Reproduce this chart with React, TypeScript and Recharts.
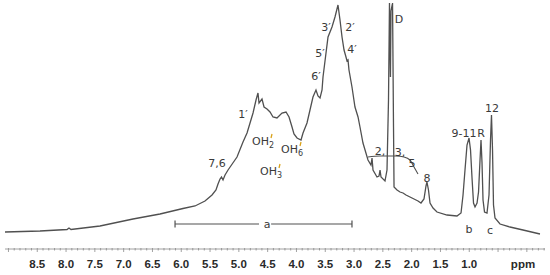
import { ComposedChart, Line, XAxis, YAxis, ReferenceLine } from 'recharts'

// chemical shift (ppm) and signal height
const PPM = [
  9.06, 8.452, 7.983, 7.949, 7.914, 7.411, 6.838, 6.369, 5.97, 5.761, 5.588, 5.466, 5.397, 5.362, 5.327,
  5.301, 5.275, 5.24, 5.188, 5.032, 4.928, 4.858, 4.806, 4.754, 4.702, 4.668, 4.65, 4.598, 4.563, 4.511,
  4.459, 4.407, 4.338, 4.251, 4.181, 4.129, 4.077, 4.043, 3.99, 3.921, 3.886, 3.817, 3.765, 3.713, 3.661,
  3.626, 3.591, 3.556, 3.539, 3.487, 3.452, 3.383, 3.331, 3.279, 3.244, 3.209, 3.174, 3.14, 3.122, 3.105,
  3.088, 3.036, 2.984, 2.931, 2.897, 2.845, 2.758, 2.706, 2.688, 2.671, 2.602, 2.567, 2.549, 2.532, 2.463,
  2.428, 2.402, 2.385, 2.368, 2.359, 2.332, 2.315, 2.306, 2.254, 2.202, 2.15, 2.098, 2.029, 1.959, 1.89,
  1.838, 1.786, 1.751, 1.734, 1.708, 1.681, 1.629, 1.56, 1.386, 1.213, 1.143, 1.108, 1.074, 1.039, 1.004,
  0.978, 0.952, 0.926, 0.9, 0.865, 0.839, 0.813, 0.796, 0.779, 0.761, 0.735, 0.692, 0.657, 0.631, 0.614,
  0.596, 0.579, 0.553, 0.466, 0.293, 0.067, -0.228,
]
const SIGNAL = [
  15, 16, 17.5, 19, 17.5, 21, 28, 33, 38.5, 41, 46, 52, 57, 63, 68,
  70, 67, 72, 77, 90, 105, 114, 124, 134, 147, 154, 144, 148, 140, 138,
  135, 130, 129, 134, 135, 130, 120, 113, 109, 107, 114, 124, 137, 150, 157,
  151, 149, 157, 170, 194, 210, 220, 230, 242, 227, 210, 197, 190, 186, 187,
  177, 160, 140, 130, 120, 104, 87, 82, 89, 77, 70, 71, 77, 70, 66,
  77, 147, 244, 170, 236, 244, 120, 60, 57, 55, 54, 52, 50, 48, 46,
  44, 48, 61, 65, 57, 44, 39, 35, 32, 31, 34, 52, 77, 102, 109,
  97, 69, 44, 40, 44, 55, 87, 107, 85, 47, 35, 34, 52, 107, 132,
  97, 42, 29, 23, 20, 17, 13,
]

// integral trace over signals 2,3,5
const INTEGRAL_PPM = [2.758, 2.549, 2.271, 2.133, 2.029, 1.959, 1.89]
const INTEGRAL_VAL = [90, 91, 91, 90, 87, 80, 73]

const TICK_LABELS = ['8.5', '8.0', '7.5', '7.0', '6.5', '6.0', '5.5', '5.0', '4.5', '4.0', '3.5', '3.0', '2.5', '2.0', '1.5', '1.0']

const spectrum = PPM.map((p, i) => ({ ppm: p, v: SIGNAL[i] }))
const integral = INTEGRAL_PPM.map((p, i) => ({ ppm: p, v: INTEGRAL_VAL[i] }))

const ticks: number[] = []
for (let t = 90; t >= -3; t--) ticks.push(t / 10)

const COLORS = {
  curve: '#505050',
  axis: '#8a8a8a',
  text: '#3a3a3a',
  prime: '#d9a21b',
}

const RulerTick = ({ x, y, payload }: any) => {
  const v = payload.value
  const major = Math.abs(v * 2 - Math.round(v * 2)) < 1e-6
  const label = TICK_LABELS.find((t) => Math.abs(parseFloat(t) - v) < 1e-6)
  return (
    <g>
      <line x1={x} x2={x} y1={y - 1} y2={y + (major ? 3 : 1.5)} stroke={COLORS.axis} strokeWidth={0.8} />
      {label && (
        <text x={x} y={y + 19} textAnchor="middle" fontFamily="Liberation Sans, Arial, sans-serif" fontWeight="bold" fontSize={11.5} fill="#2a2a2a">
          {label}
        </text>
      )}
    </g>
  )
}

const T = { fontFamily: 'DejaVu Sans, Verdana, sans-serif', fontSize: 11, fill: COLORS.text }

// small coloured prime mark drawn over the OH labels
const Prime = ({ x, y }: { x: number; y: number }) => (
  <line x1={x + 1} y1={y - 4} x2={x} y2={y} stroke={COLORS.prime} strokeWidth={1.3} />
)

function Annotations() {
  return (
    <svg width={550} height={275} style={{ position: 'absolute', left: 0, top: 0, pointerEvents: 'none' }}>
      <text {...T} x={217} y={167} textAnchor="middle">7,6</text>
      <text {...T} x={243} y={118} textAnchor="middle">1′</text>
      <text {...T} x={252} y={145}>OH<tspan fontSize={8} dy={3}>2</tspan></text>
      <Prime x={271} y={138} />
      <text {...T} x={281} y={153}>OH<tspan fontSize={8} dy={3}>6</tspan></text>
      <Prime x={300} y={146} />
      <text {...T} x={260} y={175}>OH<tspan fontSize={8} dy={3}>3</tspan></text>
      <Prime x={279} y={168} />
      <text {...T} x={316} y={80} textAnchor="middle">6′</text>
      <text {...T} x={320} y={57} textAnchor="middle">5′</text>
      <text {...T} x={326} y={31} textAnchor="middle">3′</text>
      <text {...T} x={350} y={31} textAnchor="middle">2′</text>
      <text {...T} x={352} y={53} textAnchor="middle">4′</text>
      <text {...T} x={399} y={23} textAnchor="middle">D</text>
      <text {...T} x={380} y={155} textAnchor="middle">2,</text>
      <text {...T} x={400} y={156} textAnchor="middle">3,</text>
      <text {...T} x={412} y={167} textAnchor="middle">5</text>
      <text {...T} x={427} y={182} textAnchor="middle">8</text>
      <text {...T} x={464} y={137} textAnchor="middle">9-11</text>
      <text {...T} x={481} y={137} textAnchor="middle">R</text>
      <text {...T} x={492} y={112} textAnchor="middle">12</text>
      <text {...T} x={469} y={233} textAnchor="middle">b</text>
      <text {...T} x={490} y={234} textAnchor="middle">c</text>
      <text {...T} x={267} y={228} textAnchor="middle">a</text>
      <text x={523} y={268} textAnchor="middle" fontFamily="Liberation Sans, Arial, sans-serif" fontWeight="bold" fontSize={11.5} fill="#2a2a2a">ppm</text>
    </svg>
  )
}

export default function App() {
  return (
    <div style={{ position: 'absolute', left: 0, top: 0, width: 550, height: 275, background: '#fff' }}>
      <ComposedChart width={550} height={275} margin={{ top: 0, right: 5, bottom: 0, left: 5 }}>
        <XAxis
          type="number"
          dataKey="ppm"
          domain={[-0.315, 9.06]}
          reversed
          allowDataOverflow
          ticks={ticks}
          interval={0}
          tickSize={0}
          tickMargin={0}
          tickLine={false}
          tick={<RulerTick />}
          height={26}
          axisLine={{ stroke: COLORS.axis, strokeWidth: 0.8 }}
        />
        <YAxis hide type="number" domain={[-2, 247]} allowDataOverflow />
        <ReferenceLine segment={[{ x: 6.108, y: 23 }, { x: 4.65, y: 23 }]} stroke={COLORS.curve} strokeWidth={1.2} />
        <ReferenceLine segment={[{ x: 4.44, y: 23 }, { x: 3.036, y: 23 }]} stroke={COLORS.curve} strokeWidth={1.2} />
        <ReferenceLine segment={[{ x: 6.108, y: 19.5 }, { x: 6.108, y: 26.5 }]} stroke={COLORS.curve} strokeWidth={1.2} />
        <ReferenceLine segment={[{ x: 3.036, y: 19.5 }, { x: 3.036, y: 26.5 }]} stroke={COLORS.curve} strokeWidth={1.2} />
        <Line
          data={integral}
          dataKey="v"
          type="monotone"
          stroke={COLORS.curve}
          strokeWidth={1.1}
          dot={false}
          isAnimationActive={false}
        />
        <Line
          data={spectrum}
          dataKey="v"
          type="linear"
          stroke={COLORS.curve}
          strokeWidth={1.3}
          dot={false}
          isAnimationActive={false}
        />
      </ComposedChart>
      <Annotations />
    </div>
  )
}
